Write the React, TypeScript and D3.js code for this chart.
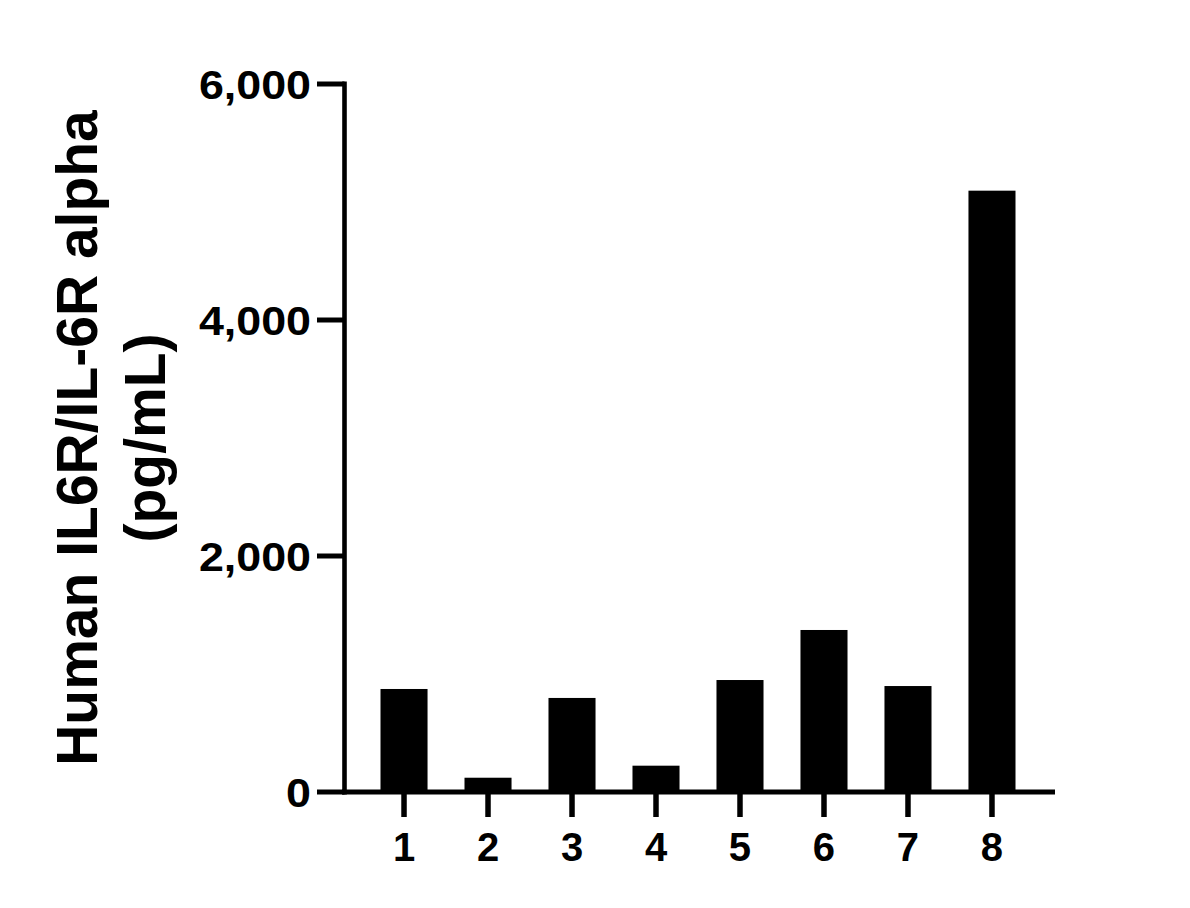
import React from "react";
import * as d3 from "d3";

const categories = ["1", "2", "3", "4", "5", "6", "7", "8"];
const values = [873, 121, 797, 223, 949, 1373, 898, 5096];
const yTicks = [0, 2000, 4000, 6000];
const titleLines = ["Human IL6R/IL-6R alpha", "(pg/mL)"];

const W = 1190;
const H = 908;
const FONT = "'Liberation Sans', Arial, Helvetica, sans-serif";

export default function App() {
  const axisX = 344.5;
  const axisY = 792;
  const y = d3.scaleLinear().domain([0, 6000]).range([axisY, 84]);
  const x = d3
    .scaleBand<string>()
    .domain(categories)
    .range([axisX, 1051.5])
    .paddingInner(0.44)
    .paddingOuter(0.4286);
  const fmt = d3.format(",");
  const bw = x.bandwidth();
  return (
    <svg
      width={W}
      height={H}
      style={{ position: "absolute", left: 0, top: 0, background: "#fff" }}
    >
      <rect width={W} height={H} fill="#fff" />
      {/* bars */}
      {categories.map((c, i) => (
        <rect
          key={c}
          x={x(c)}
          y={y(values[i])}
          width={bw}
          height={axisY - y(values[i])}
          fill="#000"
        />
      ))}
      {/* y axis */}
      <line x1={axisX} x2={axisX} y1={81.5} y2={794.5} stroke="#000" strokeWidth={4.6} />
      {yTicks.map((t) => (
        <g key={t}>
          <line x1={317} x2={axisX} y1={y(t)} y2={y(t)} stroke="#000" strokeWidth={5} />
          <text
            transform={`translate(311, ${y(t)}) scale(1.12, 1.02)`}
            dy="0.36em"
            textAnchor="end"
            fontFamily={FONT}
            fontWeight="bold"
            fontSize={40}
            fill="#000"
          >
            {fmt(t)}
          </text>
        </g>
      ))}
      {/* x axis */}
      <line x1={342} x2={1055} y1={axisY} y2={axisY} stroke="#000" strokeWidth={5} />
      {categories.map((c) => {
        const cx = (x(c) as number) + bw / 2;
        return (
          <g key={c}>
            <line x1={cx} x2={cx} y1={axisY} y2={817} stroke="#000" strokeWidth={5.5} />
            <text
              x={cx}
              y={861}
              textAnchor="middle"
              fontFamily={FONT}
              fontWeight="bold"
              fontSize={40}
              fill="#000"
            >
              {c}
            </text>
          </g>
        );
      })}
      {/* y title */}
      <g transform={`translate(0, ${(y(0) + y(6000)) / 2}) rotate(-90)`}>
        {titleLines.map((l, i) => (
          <text
            key={i}
            x={0}
            y={97 + i * 68}
            textAnchor="middle"
            fontFamily={FONT}
            fontWeight="bold"
            fontSize={57}
            fill="#000"
          >
            {l}
          </text>
        ))}
      </g>
    </svg>
  );
}
